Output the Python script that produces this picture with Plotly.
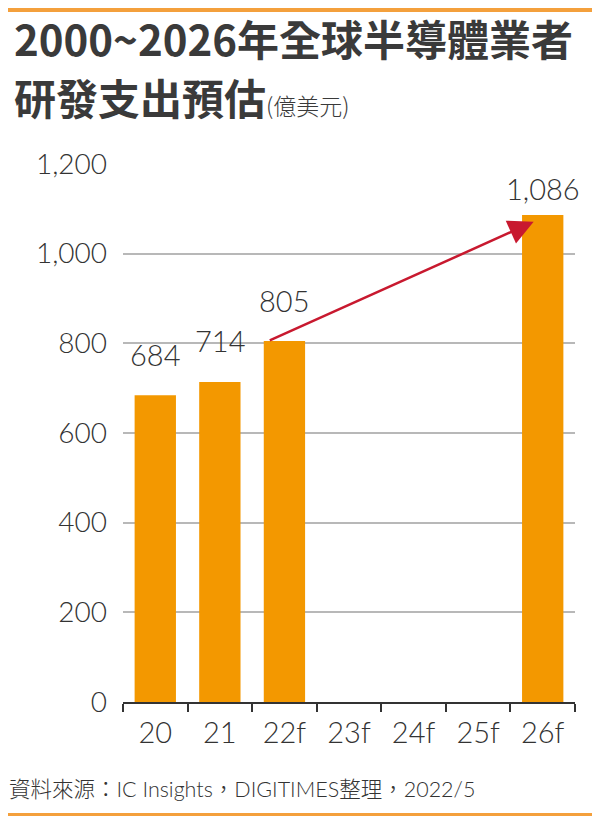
import plotly.graph_objects as go

categories = ["20", "21", "22f", "23f", "24f", "25f", "26f"]
rd_spending = [684, 714, 805, None, None, None, 1086]
value_labels = ["684", "714", "805", None, None, None, "1,086"]
y_ticks = [0, 200, 400, 600, 800, 1000, 1200]
y_tick_labels = ["0", "200", "400", "600", "800", "1,000", "1,200"]

title_line1 = "2000~2026年全球半導體業者"
title_line2 = "研發支出預估"
unit_text = "(億美元)"
source_text = "資料來源：IC Insights，DIGITIMES整理，2022/5"

# page is 600x816, but the browser body adds an 8px margin
OFF = 8
W, H = 600 - OFF, 816 - OFF
L, R, T, B = 123 - OFF, 25, 164 - OFF, 114
LIGHT = "Lato, 'Noto Sans CJK TC', sans-serif"
TXT = "#333333"


def px(x):
    # page pixel -> paper x
    return (x - OFF - L) / (W - L - R)


def py(y):
    # page pixel -> paper y
    return (H - B - (y - OFF)) / (H - T - B)


fig = go.Figure()
fig.add_trace(go.Bar(
    x=categories, y=rd_spending,
    marker_color="#F39800", marker_line_width=0,
    width=0.64, hoverinfo="x+y"))

annotations = []
for i, (v, lab) in enumerate(zip(rd_spending, value_labels)):
    if v is None:
        continue
    annotations.append(dict(
        x=i, y=v, xref="x", yref="y", text=lab,
        showarrow=False, yanchor="middle",
        yshift=27 if v > 1000 else 41,
        font=dict(family=LIGHT, size=29, color=TXT, weight=300)))

# arrow from top of 22f bar to top of 26f bar
i0, i1 = categories.index("22f"), categories.index("26f")
annotations.append(dict(
    x=i1 - 0.14, y=rd_spending[i1] - 15, xref="x", yref="y",
    ax=i0 - 0.25, ay=rd_spending[i0], axref="x", ayref="y",
    text="", showarrow=True, arrowhead=2, arrowsize=2, arrowwidth=2.5,
    arrowcolor="#C8192F"))

annotations.append(dict(
    x=px(12), y=py(37), xref="paper", yref="paper", xanchor="left", yanchor="middle",
    text=title_line1, showarrow=False,
    font=dict(family="'Noto Sans CJK TC', sans-serif", size=42, color="#3a3a3a", weight="bold")))
annotations.append(dict(
    x=px(12), y=py(96), xref="paper", yref="paper", xanchor="left", yanchor="middle",
    text=title_line2 + "<span style='font-size:23px;font-weight:300'>" + unit_text + "</span>",
    showarrow=False,
    font=dict(family="'Noto Sans CJK TC', sans-serif", size=42, color="#3a3a3a", weight="bold")))
annotations.append(dict(
    x=px(7), y=py(789), xref="paper", yref="paper", xanchor="left", yanchor="middle",
    text=source_text, showarrow=False,
    font=dict(family=LIGHT, size=21.5, color=TXT, weight=300)))

shapes = [
    dict(type="rect", xref="paper", yref="paper", x0=px(0), x1=px(616), y0=py(OFF + 4), y1=py(OFF),
         fillcolor="#F4A03C", line_width=0, layer="above"),
    dict(type="rect", xref="paper", yref="paper", x0=px(0), x1=px(616), y0=py(816), y1=py(813),
         fillcolor="#F4A03C", line_width=0, layer="above"),
]

fig.update_layout(
    width=W, height=H,
    margin=dict(l=L, r=R, t=T, b=B),
    paper_bgcolor="white", plot_bgcolor="white",
    showlegend=False,
    annotations=annotations,
    shapes=shapes,
    xaxis=dict(
        type="category", range=[-0.5, 6.5],
        showline=True, linecolor="#333333", linewidth=2,
        ticks="outside", tickson="boundaries", ticklen=8, tickwidth=2, tickcolor="#333333",
        tickfont=dict(family=LIGHT, size=29, color=TXT, weight=300),
        ticklabelstandoff=4, showgrid=False, fixedrange=True),
    yaxis=dict(
        range=[0, 1200], tickvals=y_ticks, ticktext=y_tick_labels,
        showgrid=True, gridcolor="#B8B8B8", gridwidth=2, zeroline=False,
        showline=False, ticks="",
        tickfont=dict(family=LIGHT, size=28, color=TXT, weight=300),
        ticklabelstandoff=15, fixedrange=True),
)

fig.write_html("out.html")
